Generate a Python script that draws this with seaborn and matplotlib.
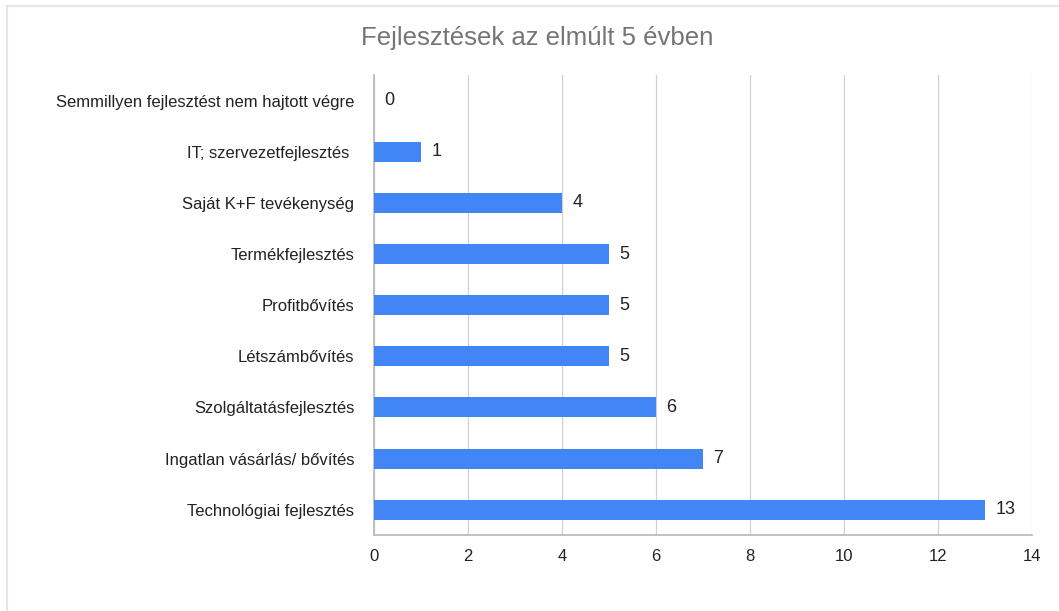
import matplotlib
matplotlib.use("Agg")
import matplotlib.pyplot as plt
import seaborn as sns
import pandas as pd
from matplotlib.patches import Rectangle

# data
categories = ["Semmillyen fejlesztést nem hajtott végre",
              "IT; szervezetfejlesztés ",
              "Saját K+F tevékenység",
              "Termékfejlesztés",
              "Profitbővítés",
              "Létszámbővítés",
              "Szolgáltatásfejlesztés",
              "Ingatlan vásárlás/ bővítés",
              "Technológiai fejlesztés"]
counts = [0, 1, 4, 5, 5, 5, 6, 7, 13]
x_ticks = [0, 2, 4, 6, 8, 10, 12, 14]

df = pd.DataFrame({"kategoria": categories, "db": counts})

sns.set_style("white")
plt.rcParams['font.family'] = ['Liberation Sans', 'DejaVu Sans']

fig = plt.figure(figsize=(10.59, 6.11), dpi=100)
ax = fig.add_axes([0.353, 0.124, 0.6215, 0.753])

sns.barplot(data=df, y="kategoria", x="db", color="#4285F4", saturation=1,
            width=0.39, orient="h", ax=ax, zorder=3, linewidth=0)

for i, v in enumerate(counts):
    ax.text(v + 0.22, i, str(v), va="center", ha="left", fontsize=13, color="#222222")

ax.set_xlim(0, 14)
ax.set_ylim(8.5, -0.5)
ax.set_xticks(x_ticks)
ax.set_xticklabels([str(t) for t in x_ticks], fontsize=12, color="#222222")
ax.tick_params(axis="y", labelsize=12, labelcolor="#222222", length=0, pad=14)
ax.tick_params(axis="x", length=0, pad=10)
ax.set_xlabel("")
ax.set_ylabel("")
ax.grid(axis="x", color="#d0d0d0", linewidth=0.9, zorder=0)
for s in ["top", "right"]:
    ax.spines[s].set_visible(False)
for s in ["left", "bottom"]:
    ax.spines[s].set_color("#b7b7b7")
    ax.spines[s].set_linewidth(1.2)

fig.text(0.507, 0.938, "Fejlesztések az elmúlt 5 évben", ha="center", va="center",
         fontsize=18.5, color="#757575")

# light frame around the chart
fig.patches.append(Rectangle((7/1059, -0.1), 1.2, 1 - 6/611 + 0.1, transform=fig.transFigure,
                             fill=False, edgecolor="#e6e6e6", linewidth=1.5))

fig.savefig("out.png", dpi=100)
